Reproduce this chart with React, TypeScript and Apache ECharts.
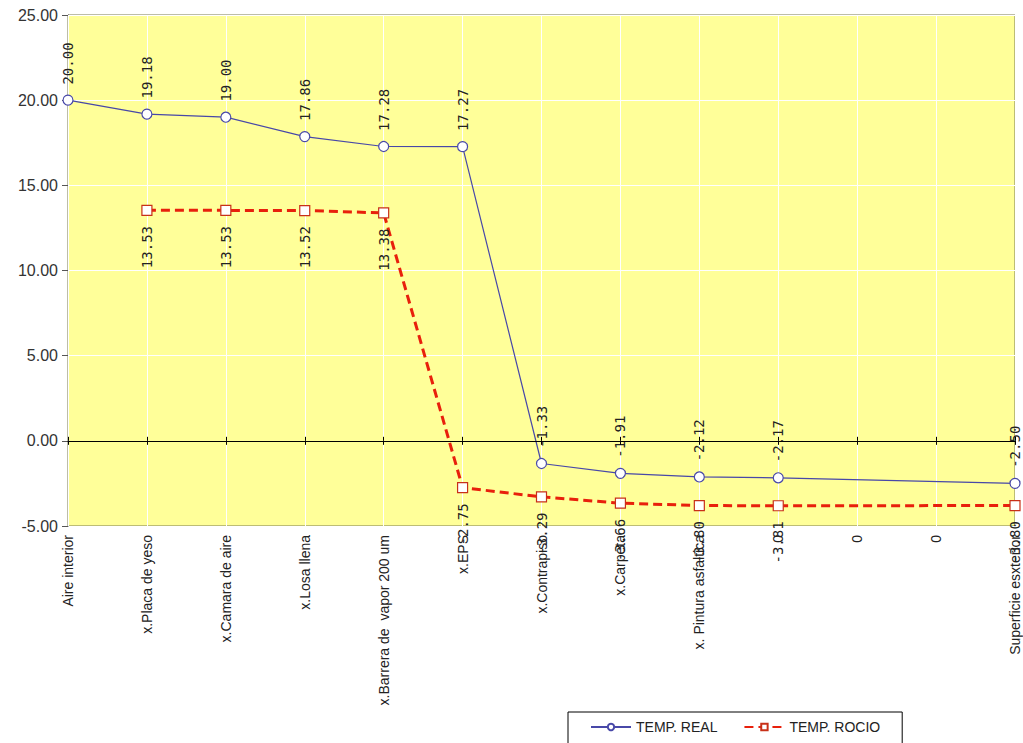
import React, { useEffect, useRef } from "react";
import * as echarts from "echarts";

const categories = [
  "Aire interior",
  "x.Placa de yeso",
  "x.Camara de aire",
  "x.Losa llena",
  "x.Barrera de  vapor 200 um",
  "x.EPS",
  "x.Contrapiso",
  "x.Carpeta",
  "x. Pintura asfaltica",
  "0",
  "0",
  "0",
  "Superficie esxterior",
];
const tempReal: (number | null)[] = [20.0, 19.18, 19.0, 17.86, 17.28, 17.27, -1.33, -1.91, -2.12, -2.17, null, null, -2.5];
const tempRocio: (number | null)[] = [null, 13.53, 13.53, 13.52, 13.38, -2.75, -3.29, -3.66, -3.8, -3.81, null, null, -3.8];

const valueFont = "DejaVu Sans Mono";
const textFont = "Liberation Sans, Arial, sans-serif";

export default function App() {
  const ref = useRef<HTMLDivElement>(null);
  useEffect(() => {
    if (!ref.current) return;
    const chart = echarts.init(ref.current, null, { renderer: "svg" });
    chart.setOption({
      animation: false,
      grid: {
        left: 68,
        right: 8,
        top: 15,
        bottom: 217,
        containLabel: false,
        outerBoundsMode: "none",
        show: true,
        backgroundColor: "#ffff99",
        borderColor: "#7a7a50",
        borderWidth: 1,
      },
      legend: {
        left: 568,
        top: 712,
        width: 344,
        padding: [8, 22, 12, 22],
        itemGap: 26,
        itemWidth: 40,
        itemHeight: 8,
        borderColor: "#000",
        borderWidth: 1,
        borderRadius: 0,
        backgroundColor: "#fff",
        textStyle: { fontFamily: textFont, fontSize: 14, color: "#222" },
        data: ["TEMP. REAL", "TEMP. ROCIO"],
      },
      xAxis: [
        {
          type: "category",
          data: categories,
          boundaryGap: false,
          position: "bottom",
          z: 6,
          axisLine: { show: true, onZero: true, onZeroAxisIndex: 0, lineStyle: { color: "#000", width: 1 } },
          axisTick: { show: true, interval: 0, length: 4, inside: false, lineStyle: { color: "#000" } },
          axisLabel: { show: false, interval: 0 },
          splitLine: { show: false },
        },
        {
          type: "category",
          data: categories,
          boundaryGap: false,
          position: "top",
          z: 6,
          axisLine: { show: false, onZero: true, onZeroAxisIndex: 1 },
          axisTick: { show: true, interval: 0, length: 4, inside: false, lineStyle: { color: "#000" } },
          axisLabel: { show: false, interval: 0 },
          splitLine: { show: false },
        },
        {
          type: "category",
          data: categories,
          boundaryGap: false,
          position: "bottom",
          z: 1,
          axisLine: { show: false, onZero: false },
          axisTick: { show: false },
          axisLabel: {
            show: true,
            interval: 0,
            rotate: 90,
            margin: 9,
            fontFamily: textFont,
            fontSize: 14,
            color: "#222",
          },
          splitLine: { show: true, interval: 0, lineStyle: { color: "#ffffff", width: 1 } },
        },
      ],
      yAxis: [
        {
          type: "value",
          min: -5,
          max: 25,
          interval: 5,
          axisLine: { show: true, lineStyle: { color: "#555" } },
          axisTick: { show: true, length: 6, lineStyle: { color: "#555" } },
          axisLabel: {
            formatter: (v: number) => v.toFixed(2),
            fontFamily: textFont,
            fontSize: 16,
            color: "#333",
            margin: 10,
          },
          splitLine: { show: true, lineStyle: { color: "#ffffff", width: 1 } },
        },
        {
          type: "value",
          min: -5,
          max: 25,
          interval: 5,
          show: false,
          splitLine: { show: false },
        },
      ],
      series: [
        {
          name: "TEMP. REAL",
          type: "line",
          xAxisIndex: 0,
          yAxisIndex: 0,
          data: tempReal,
          connectNulls: true,
          symbol: "circle",
          symbolSize: 10,
          lineStyle: { color: "#4848a8", width: 1.2 },
          itemStyle: { color: "#ffffff", borderColor: "#4848a8", borderWidth: 1.2 },
          label: {
            show: true,
            position: "top",
            rotate: 90,
            align: "left",
            verticalAlign: "middle",
            distance: 10,
            formatter: (p: any) => Number(p.value).toFixed(2),
            fontFamily: valueFont,
            fontSize: 14,
            color: "#222",
          },
          z: 3,
        },
        {
          name: "TEMP. ROCIO",
          type: "line",
          xAxisIndex: 0,
          yAxisIndex: 0,
          data: tempRocio,
          connectNulls: true,
          symbol: "rect",
          symbolSize: 10,
          lineStyle: { color: "#e8200c", width: 3, type: [9, 5] },
          itemStyle: { color: "#ffffff", borderColor: "#c83018", borderWidth: 1.2 },
          label: {
            show: true,
            position: "bottom",
            rotate: 90,
            align: "right",
            verticalAlign: "middle",
            distance: 10,
            formatter: (p: any) => Number(p.value).toFixed(2),
            fontFamily: valueFont,
            fontSize: 14,
            color: "#222",
          },
          z: 2,
        },
      ],
    });
    return () => chart.dispose();
  }, []);
  return <div ref={ref} style={{ width: 1023, height: 743, position: "absolute", left: 0, top: 0 }} />;
}
